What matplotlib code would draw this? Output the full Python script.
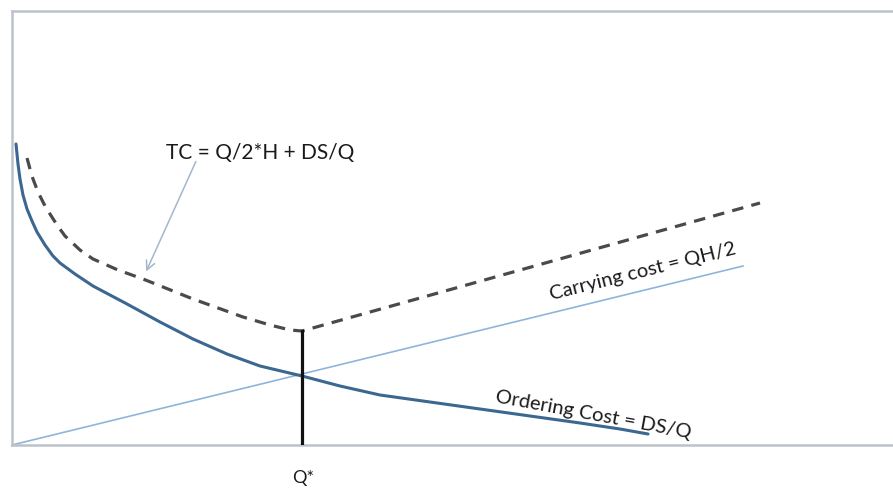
import numpy as np
import matplotlib.pyplot as plt

# values (arbitrary cost units, origin at lower left)
order_q = [4, 6, 8, 11, 15, 20, 25, 33, 41, 48, 63, 81, 115, 148, 181, 215,
           248, 290, 328, 368, 418, 468, 518, 568, 608, 636]
order_cost = [301, 281, 266, 250, 236, 224, 213, 200, 189, 182, 171, 159, 141,
              123, 106, 91, 79, 69, 59, 50, 43, 36, 29, 22, 16, 11]

carry_q = [0, 731]
carry_cost = [0, 179]

total_q = [15, 18, 21, 26, 32, 38, 45, 53, 68, 81, 106, 131, 156, 181, 206,
           231, 258, 278, 290, 748]
total_cost = [287, 276, 266, 253, 241, 231, 220, 209, 195, 186, 175, 166, 156,
              146, 137, 128, 120, 115, 114, 242]

q_star = 290
q_star_top = 114

plt.rcParams.update({
    "font.family": ["Lato", "DejaVu Sans"],
    "font.size": 14,
})

fig = plt.figure(figsize=(8.93, 4.89), dpi=100)
ax = fig.add_axes([12 / 893, 43 / 489, 888 / 893, 434 / 489])
ax.set_xlim(0, 888)
ax.set_ylim(0, 434)

ax.plot(carry_q, carry_cost, color="#8fb5da", lw=1.2, zorder=2)
ax.plot(order_q, order_cost, color="#3b6790", lw=2.2, zorder=3,
        solid_capstyle="round", solid_joinstyle="round")
ax.plot(total_q, total_cost, color="#4a4a4a", lw=2.3, zorder=3,
        dashes=(3.6, 2.6))
ax.plot([q_star, q_star], [0, q_star_top], color="#111111", lw=2.3, zorder=4)

ax.annotate("", xy=(133, 171), xytext=(185, 286),
            arrowprops=dict(arrowstyle="->", color="#a3b6cc", lw=1.1,
                            mutation_scale=16))
ax.text(248, 293, "TC = Q/2*H + DS/Q", ha="center", va="center",
        fontsize=15, color="#1a1a1a")
ax.text(631, 174, "Carrying cost = QH/2", ha="center", va="center",
        rotation=14, fontsize=14.5, color="#1a1a1a")
ax.text(581, 31, "Ordering Cost = DS/Q", ha="center", va="center",
        rotation=-10.5, fontsize=14.5, color="#1a1a1a")
ax.text(q_star + 1, -32, "Q*", ha="center", va="center", fontsize=13,
        color="#1a1a1a", clip_on=False)

for side in ["left", "top", "bottom"]:
    ax.spines[side].set_color("#bcc2cc")
    ax.spines[side].set_linewidth(1.8)
ax.spines["right"].set_visible(False)
ax.set_xticks([])
ax.set_yticks([])

plt.savefig("out.png", dpi=100)
